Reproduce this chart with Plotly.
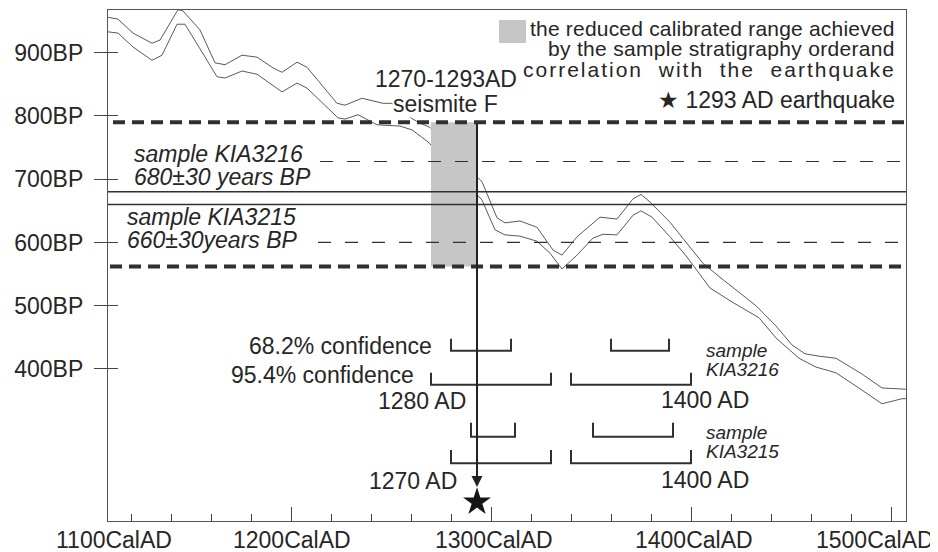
import plotly.graph_objects as go

# ---------------- data ----------------
# calibration curve band (CalAD vs radiocarbon years BP)
cal_up_x = [1108.5, 1113.5, 1121, 1130.5, 1134.5, 1143.5, 1146, 1154.5, 1162, 1167, 1175.5, 1183, 1191,
            1195.5, 1203, 1208, 1223, 1227, 1235.5, 1246, 1250.5, 1259.5, 1263.5, 1269.5, 1292, 1295.5,
            1303, 1307, 1314.5, 1323, 1331, 1335.5, 1343, 1354.5, 1363, 1371, 1375, 1379.5, 1389.5, 1398,
            1406, 1414.5, 1422.5, 1432.5, 1442.5, 1450.5, 1457, 1464.5, 1472.5, 1485.5, 1495.5, 1507.5]
cal_up_bp = [956, 953, 931, 915, 920, 968, 966, 936, 884, 881, 896, 893, 876,
             869, 885, 877, 820, 817, 828, 820, 820, 798, 790, 782, 707, 696,
             639, 631, 634, 624, 588, 580, 609, 640, 637, 669, 676, 664, 632, 599,
             567, 545, 525, 500, 468, 438, 424, 420, 417, 392, 370, 368]
cal_lo_x = [1108.5, 1113.5, 1121, 1130.5, 1135.5, 1143, 1147, 1154.5, 1163, 1167, 1175.5, 1183, 1195.5,
            1203, 1208, 1223.5, 1227, 1233.5, 1243, 1254.5, 1260.5, 1268.5, 1292, 1295.5, 1302, 1307,
            1314.5, 1323, 1329.5, 1335.5, 1343, 1351, 1356, 1363, 1371, 1375, 1380.5, 1389.5, 1398,
            1409.5, 1420.5, 1434, 1442.5, 1454, 1462.5, 1472.5, 1482.5, 1495.5, 1505.5, 1507.5]
cal_lo_bp = [933, 931, 909, 888, 896, 945, 945, 907, 862, 860, 871, 866, 838,
             852, 844, 797, 795, 802, 786, 784, 778, 759, 680, 667, 620, 612,
             610, 602, 583, 558, 580, 607, 613, 612, 643, 650, 640, 609, 577,
             528, 506, 481, 449, 417, 403, 394, 373, 345, 353, 353]

# sample ages (BP) and ranges
sample_bp = [680, 660]                 # KIA3216, KIA3215
sigma1_bp = [728, 600]                 # thin dashed lines
sigma2_bp = [790, 562]                 # thick dashed lines
thin_start = [1214.5, 1213.5]
thick_start = [1111, 1109.5]
x_end = 1507.5

# reduced calibrated range (seismite F) and earthquake
range_ad = [1270, 1293]
quake_ad = 1293

# confidence brackets: (start AD, end AD) pairs, baseline BP, tick-top BP
brackets = [
    ([(1280, 1310), (1360, 1389)], 429, 448),   # KIA3216 68.2%
    ([(1270, 1330), (1340, 1400)], 375, 394),   # KIA3216 95.4%
    ([(1290, 1312), (1351, 1391)], 293, 315),   # KIA3215 68.2%
    ([(1280, 1330), (1340, 1400)], 251, 272),   # KIA3215 95.4%
]

y_ticks = [400, 500, 600, 700, 800, 900]
y_tick_txt = ["400BP", "500BP", "600BP", "700BP", "800BP", "900BP"]
x_major = [1200, 1300, 1400, 1500]
x_label_pos = [1111.5, 1200.5, 1301.5, 1401.5, 1492]
x_label_txt = ["1100CalAD", "1200CalAD", "1300CalAD", "1400CalAD", "1500CalAD"]

X_RANGE = [1108.5, 1507.5]
Y_RANGE = [159.7, 967.5]

# page has an 8px body margin -> figure is offset by 8px
OFF = 8
W, H = 938 - OFF, 552 - OFF
ML, MR, MT, MB = 108 - OFF, 32, 10 - OFF, 31
FONT = "Liberation Sans, Arial, sans-serif"
TXT = "#262626"


def dx(px):
    return X_RANGE[0] + (px - 108) / 798 * (X_RANGE[1] - X_RANGE[0])


def dy(py):
    return Y_RANGE[1] - (py - 10) / 511 * (Y_RANGE[1] - Y_RANGE[0])


fig = go.Figure()

# calibration curve
for xs, ys in [(cal_up_x, cal_up_bp), (cal_lo_x, cal_lo_bp)]:
    fig.add_trace(go.Scatter(x=xs, y=ys, mode="lines",
                             line=dict(color="#5a5a5a", width=1), hoverinfo="skip"))

# grey reduced range box
fig.add_trace(go.Scatter(x=[range_ad[0], range_ad[1], range_ad[1], range_ad[0], range_ad[0]],
                         y=[sigma2_bp[0], sigma2_bp[0], sigma2_bp[1], sigma2_bp[1], sigma2_bp[0]],
                         mode="lines", fill="toself", fillcolor="#c6c6c6",
                         line=dict(width=0, color="#c6c6c6"), hoverinfo="skip"))

# thick dashed (2 sigma) lines
for bp, xs in zip(sigma2_bp, thick_start):
    fig.add_trace(go.Scatter(x=[xs, x_end], y=[bp, bp], mode="lines",
                             line=dict(color="#303030", width=4, dash="12px,7px"), hoverinfo="skip"))
# thin dashed lines
for bp, xs in zip(sigma1_bp, thin_start):
    fig.add_trace(go.Scatter(x=[xs, x_end], y=[bp, bp], mode="lines",
                             line=dict(color="#303030", width=1.2, dash="13px,14px"), hoverinfo="skip"))
# solid sample age lines
for bp in sample_bp:
    fig.add_trace(go.Scatter(x=[X_RANGE[0], x_end], y=[bp, bp], mode="lines",
                             line=dict(color="#303030", width=1.5), hoverinfo="skip"))

# confidence brackets
for pairs, base, top in brackets:
    bx, by = [], []
    for a, b in pairs:
        bx += [a, a, b, b, None]
        by += [top, base, base, top, None]
    fig.add_trace(go.Scatter(x=bx, y=by, mode="lines",
                             line=dict(color="#303030", width=2), hoverinfo="skip"))

# earthquake star
fig.add_trace(go.Scatter(x=[quake_ad], y=[dy(502)], mode="markers",
                         marker=dict(symbol="star", size=21, color="#151515"), hoverinfo="skip"))

# dummy trace for inside y ticks
fig.add_trace(go.Scatter(x=[None], y=[None], yaxis="y2", showlegend=False))

# vertical arrow
fig.add_annotation(x=quake_ad, y=dy(487), ax=quake_ad, ay=sigma2_bp[0], xref="x", yref="y",
                   axref="x", ayref="y", text="", showarrow=True, arrowhead=2, arrowsize=1.1,
                   arrowwidth=2, arrowcolor="#222222", standoff=0)

# legend grey square
fig.add_shape(type="rect", xref="x", yref="y", x0=dx(499), x1=dx(526), y0=dy(43), y1=dy(20),
              fillcolor="#c6c6c6", line=dict(width=0))


def ann(text, px, py, size=23, xanchor="center", italic=False, bg=None):
    t = f"<i>{text}</i>" if italic else text
    kw = {}
    if bg:
        kw = dict(bgcolor=bg, borderpad=0)
    fig.add_annotation(x=dx(px), y=dy(py), xref="x", yref="y", text=t, showarrow=False,
                       xanchor=xanchor, yanchor="middle",
                       font=dict(family=FONT, size=size, color=TXT), **kw)


# legend text
ann('<span style="letter-spacing:0.2px">the reduced calibrated range achieved</span>', 897, 28, 21, "right")
ann('<span style="letter-spacing:0.3px">by the sample stratigraphy orderand</span>', 897, 48, 21, "right")
ann('<span style="letter-spacing:2px">correlation\u00a0\u00a0with\u00a0\u00a0the\u00a0\u00a0earthquake</span>',
    898, 69.5, 21, "right")
ann("\u2605 1293 AD earthquake", 897, 100, 23, "right")

# seismite label
ann("1270-1293AD", 446, 79)
ann("seismite F", 445, 104, bg="white")

# sample labels
ann("sample KIA3216", 132, 154, italic=True, xanchor="left")
ann("680\u00b130 years BP", 132, 177, italic=True, xanchor="left")
ann("sample KIA3215", 125, 217, italic=True, xanchor="left")
ann("660\u00b130years BP", 125, 240, italic=True, xanchor="left")

# confidence labels
ann("68.2% confidence", 434, 346, xanchor="right")
ann("95.4% confidence", 416, 375, xanchor="right")
ann("1280 AD", 422, 401)
ann("1400 AD", 705, 400)
ann("1270 AD", 413, 481)
ann("1400 AD", 705, 480)
ann("sample", 704, 350, 19, "left", italic=True)
ann("KIA3216", 704, 369, 19, "left", italic=True)
ann("sample", 704, 432, 19, "left", italic=True)
ann("KIA3215", 704, 451, 19, "left", italic=True)

# x tick labels
for pos, txt in zip(x_label_pos, x_label_txt):
    fig.add_annotation(x=pos, y=0, xref="x", yref="paper", yshift=-19, text=txt, showarrow=False,
                       xanchor="center", yanchor="middle",
                       font=dict(family=FONT, size=23, color=TXT))

fig.update_layout(
    width=W, height=H, margin=dict(l=ML, r=MR, t=MT, b=MB),
    paper_bgcolor="white", plot_bgcolor="white", showlegend=False,
    font=dict(family=FONT, color=TXT),
    xaxis=dict(range=X_RANGE, showgrid=False, zeroline=False, showline=True, mirror=True,
               linecolor="#555555", linewidth=1.3, tickvals=x_major, ticks="inside", ticklen=14,
               tickcolor="#444444", tickwidth=1, showticklabels=False,
               minor=dict(tick0=1100, dtick=20, ticks="inside", ticklen=7, tickcolor="#444444",
                          tickwidth=1, showgrid=False)),
    yaxis=dict(range=Y_RANGE, showgrid=False, zeroline=False, showline=True, mirror=True,
               linecolor="#555555", linewidth=1.3, tickmode="array", tickvals=y_ticks,
               ticktext=y_tick_txt, ticks="outside", ticklen=13, tickcolor="#444444", tickwidth=1,
               ticklabelstandoff=6, tickfont=dict(family=FONT, size=23, color=TXT)),
    yaxis2=dict(range=Y_RANGE, overlaying="y", side="left", showgrid=False, zeroline=False,
                showline=False, tickvals=y_ticks, ticks="inside", ticklen=10,
                tickcolor="#444444", tickwidth=1, showticklabels=False),
)

fig.write_html("out.html")
